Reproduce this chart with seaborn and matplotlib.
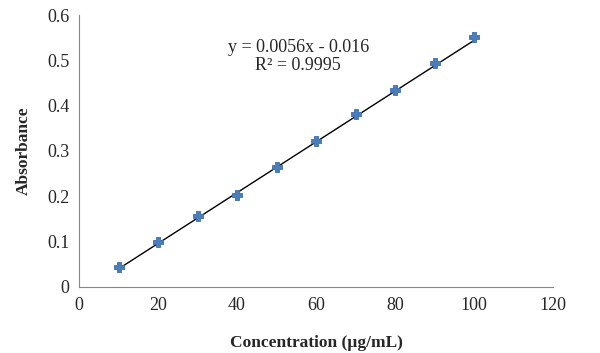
import numpy as np
import matplotlib
matplotlib.use('Agg')
import matplotlib.pyplot as plt
import seaborn as sns

conc = [10, 20, 30, 40, 50, 60, 70, 80, 90, 100]
absorb = [0.045, 0.100, 0.157, 0.202, 0.265, 0.321, 0.381, 0.435, 0.495, 0.551]
slope = 0.0056
intercept = -0.016
eq_label = "y = 0.0056x - 0.016"
r2_label = "R² = 0.9995"

sns.set_style('white')
plt.rcParams['font.family'] = ['Liberation Serif', 'DejaVu Serif']

fig = plt.figure(figsize=(6, 3.53), dpi=100)
ax = fig.add_axes([0.1317, 0.187, 0.79, 0.7705])

xs = np.array([conc[0], conc[-1]])
ax.plot(xs, slope * xs + intercept, color='black', lw=1, zorder=2)
sns.scatterplot(x=conc, y=absorb, marker='P', s=60, color='#4a7ebb',
                edgecolor='#3d6fae', linewidth=0.6, ax=ax, zorder=3)

ax.set_xlim(0, 120)
ax.set_ylim(0, 0.6)
ax.set_xticks(range(0, 121, 20))
ax.set_yticks([0, 0.1, 0.2, 0.3, 0.4, 0.5, 0.6])
ax.set_yticklabels(['0', '0.1', '0.2', '0.3', '0.4', '0.5', '0.6'])
for s in ['top', 'right']:
    ax.spines[s].set_visible(False)
for s in ['left', 'bottom']:
    ax.spines[s].set_color('#888888')
    ax.spines[s].set_linewidth(0.8)
ax.tick_params(axis='both', direction='out', length=4, width=0.8, color='#888888',
               labelsize=13, pad=3)
ax.set_xlabel('Concentration (µg/mL)', fontsize=12.5, fontweight='bold', labelpad=15)
ax.set_ylabel('Absorbance', fontsize=12.5, fontweight='bold', labelpad=11)

ax.text(55.5, 0.528, eq_label, ha='center', va='center', fontsize=13)
ax.text(55.5, 0.488, r2_label, ha='center', va='center', fontsize=13)

fig.savefig('out.png', dpi=100)
